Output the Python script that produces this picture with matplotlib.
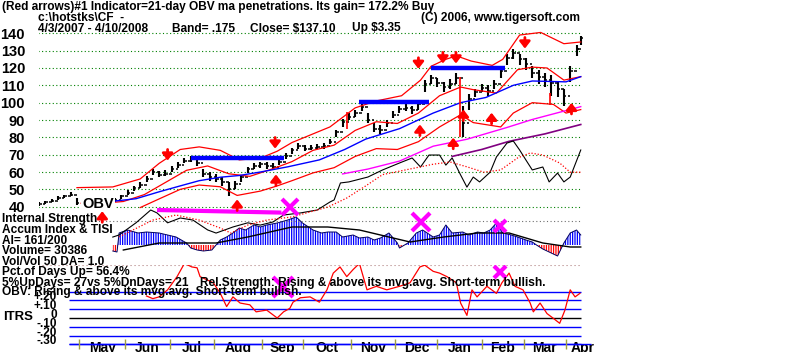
import matplotlib
matplotlib.use("Agg")
import matplotlib.pyplot as plt
from matplotlib.transforms import offset_copy
import numpy as np

plt.rcParams["font.family"] = ["Liberation Sans Narrow", "Liberation Sans", "DejaVu Sans"]
plt.rcParams["font.weight"] = "bold"
plt.rcParams["hatch.linewidth"] = 0.9

# ---- price bars (trading day index from 4/3/2007) ----
bar_day = [0, 3, 6, 9, 12, 15, 18, 21, 24, 27, 30, 33, 36, 39, 42, 45, 48, 51, 54, 57,
           60, 63, 66, 69, 72, 75, 78, 81, 84, 87, 90, 93, 96, 99, 102, 105, 108, 111, 114, 117,
           120, 123, 126, 129, 132, 135, 138, 141, 144, 147, 150, 153, 156, 159, 162, 165, 168, 171, 174, 177,
           180, 183, 186, 189, 192, 195, 198, 201, 204, 207, 210, 213, 216, 219, 222, 225, 228, 231, 234, 237,
           240, 243, 246, 249, 252, 255, 257]
bar_close = [41.5, 42.5, 43.5, 45, 46, 47, 42, 41, 41, 41.5, 42, 43, 44, 46, 48, 50.5, 52.5, 56, 60, 58.5,
             59, 62, 64, 66.5, 68, 65, 59, 57, 56, 54, 50, 53, 57, 61.5, 63.5, 64.5, 63.5, 63, 65.5, 69.5,
             72.5, 75, 73.5, 74, 74.5, 75, 77.5, 83, 89, 92, 94, 97.5, 90, 85, 84.5, 88.5, 93, 96.5, 97, 95.5,
             99, 111, 114, 111.5, 109, 111, 114.5, 88, 102, 106, 108.5, 107, 111, 118, 126, 128.5, 125, 122.5, 117, 115,
             113, 111.5, 108, 104, 118, 131, 137.1]
bar_high = [42.5, 43.5, 44.5, 46, 47, 48.5, 45, 42.5, 42, 42.5, 43, 44, 45, 47, 49.5, 52, 54, 57.5, 61.5, 60.5,
            61, 63.5, 65.5, 68, 69.5, 68, 62, 60, 59, 57, 54, 55, 58.5, 63, 65, 66, 65.5, 65, 67, 71,
            74, 76.5, 75.5, 75.5, 76, 76.5, 79, 84.5, 90.5, 94, 96, 99.5, 94, 88, 87, 90, 95, 98, 99, 98,
            101, 113, 116, 114, 112, 113.5, 117, 98, 105, 108, 111, 110, 113, 120, 128, 131, 128, 126, 121, 119,
            117, 116, 112, 108, 121, 133, 138.5]
bar_low = [40.5, 41.5, 42.5, 44, 45, 46, 41, 40, 40, 40.5, 41, 42, 43, 44.5, 46.5, 49, 51, 54, 58, 57,
           57.5, 60, 62.5, 65, 66, 63.5, 57, 55, 54, 52, 46, 50, 54.5, 59.5, 61.5, 62.5, 62, 61.5, 64, 67.5,
           70.5, 73, 72, 72.5, 73, 73.5, 76, 80, 86, 90, 92, 95, 88, 83, 82, 86, 91, 94, 95, 93.5,
           96, 106, 111, 109, 106, 108, 111, 80, 96, 103, 106, 104, 108, 114, 122, 125, 122, 119, 114, 111,
           109, 104, 103, 98, 112, 127, 133.5]

# ---- bands and moving averages (price units) ----
upper_day = [18, 35, 48, 57, 67, 76, 86, 95, 105, 113, 120, 128, 138, 150, 160, 172, 181, 186, 193, 198,
             205, 215, 220, 228, 238, 249, 257]
upper_val = [51, 51.4, 56, 65, 73, 74.5, 72.5, 67, 68, 72, 77, 81, 86, 97, 101, 104, 113, 121, 125, 127,
             124, 121.5, 125, 139, 140.5, 134, 135]
mid_day = [20, 30, 40, 50, 60, 70, 80, 90, 100, 110, 120, 130, 140, 150, 160, 170, 180, 190, 200, 206,
           217, 227, 234, 241, 249, 257]
mid_val = [42, 42, 43, 47, 54, 61, 63.5, 59, 57.5, 61.5, 66, 72.5, 75.5, 84, 89, 88, 94, 104, 109, 107.5,
           105.5, 119, 120.5, 120, 113, 115]
lower_day = [48, 57, 67, 76, 86, 94, 105, 113, 120, 130, 140, 150, 160, 170, 180, 190, 200, 206, 219, 225,
             234, 244, 250, 257]
lower_val = [39.5, 44.5, 50, 52.5, 51.5, 46.5, 49, 52, 55, 59.5, 62.5, 69, 73.5, 73, 77.5, 86, 93, 88.5, 86, 94,
             100, 99, 94, 96]
ma50_day = [34, 46, 57, 67, 76, 86, 95, 105, 118, 133, 145, 155, 171, 187, 200, 212, 225, 234, 250, 257]
ma50_val = [43, 44.6, 48.6, 52, 55, 57, 58, 60, 63, 67, 73, 79, 85, 94, 100, 103, 110, 112.5, 112, 115]
pink_day = [144, 156, 171, 187, 203, 222, 234, 257]
pink_val = [58.9, 61.7, 66.3, 74.9, 78.9, 85.7, 90.3, 97.7]
purple_day = [196, 210, 223, 240, 257]
purple_val = [69, 73, 77.7, 82, 87.4]

# ---- OBV (scaled onto price axis) and its moving average ----
obv_day = [35, 38, 46, 53, 56, 61, 67, 73, 80, 84, 92, 99, 105, 111, 116, 124, 132, 138, 140, 143,
           147, 156, 163, 171, 177, 181, 185, 190, 193, 196, 200, 203, 206, 209, 214, 217, 222, 225, 228, 231,
           234, 239, 242, 246, 249, 252, 257]
obv_val = [22.5, 23.7, 30.7, 38.1, 36.4, 30.7, 33.5, 32.3, 26.6, 24.8, 28.3, 30.7, 29.4, 31.2, 35.2, 36.4, 38.1, 42.7, 43.9, 53.7,
           54.3, 57.1, 61.2, 65.2, 68.1, 62.9, 69.8, 69.8, 64.0, 68.1, 58.3, 51.3, 57.1, 54.3, 59.9, 68.7, 76.7, 77.9, 72.7, 66.9,
           61.2, 62.9, 54.3, 59.4, 54.3, 57.1, 72.7]
obvma_day = [38, 54, 65, 76, 86, 91, 99, 108, 120, 137, 146, 155, 163, 171, 181, 187, 195, 203, 211, 219,
             227, 233, 239, 247, 252, 257]
obvma_val = [22.6, 32.3, 35.2, 32.3, 27.7, 24.8, 29.4, 32.3, 34.1, 39.8, 45, 52, 58.5, 60.5, 63, 64.5, 65.8, 63, 59.9, 61.2,
             68.1, 71.0, 69.8, 65.2, 59.9, 59.9]

# resistance lines (start day, end day, level)
res_start = [72, 152, 186]
res_end = [116, 185, 221]
res_level = [67.9, 100.1, 119.8]

# red arrows
down_day = [61, 112, 180, 191.6, 197.8, 230.5]
down_price = [69.8, 76.7, 122.7, 125.8, 125.8, 134.4]
up_day = [30, 94, 112.4, 180.7, 196.5, 201.3, 214.7, 252.6]
up_price = [34.2, 41, 55.4, 84.2, 76.6, 92.9, 91, 96.7]
sig_day = [146, 199.7, 242.4]
sig_top = [94.8, 115, 105.4]
sig_bot = [85, 80.4, 98.7]

# ---- Accumulation index ----
acc_day = [35, 37, 38, 42, 47, 51, 57, 61, 65, 70, 72, 75, 78, 82, 86, 89, 92, 95, 98, 102,
           105, 108, 113, 118, 122, 125, 130, 134, 137, 141, 144, 149, 152, 156, 159, 162, 166, 170, 171, 175,
           179, 182, 187, 190, 193, 196, 201, 204, 208, 211, 214, 217, 220, 224, 227, 231, 234, 236, 239, 243,
           246, 249, 252, 255, 257]
acc_val = [-0.06, -0.07, 0.12, 0.15, 0.12, 0.13, 0.12, 0.10, 0.08, 0.02, -0.03, -0.05, -0.06, -0.05, 0.05, 0.08, 0.12, 0.17, 0.15, 0.20,
           0.18, 0.20, 0.22, 0.25, 0.28, 0.22, 0.15, 0.12, 0.13, 0.13, 0.08, 0.10, 0.07, 0.08, 0.05, 0.07, 0.12, 0.02, -0.03, 0.02,
           0.12, 0.15, 0.08, 0.10, 0.20, 0.12, 0.13, 0.10, 0.13, 0.12, 0.15, 0.22, 0.12, 0.10, 0.08, 0.05, 0.03, 0.0, -0.04, -0.08,
           -0.11, 0.02, 0.12, 0.15, 0.10]
accma_day = [40, 57, 84, 99, 120, 137, 152, 176, 192, 208, 223, 239, 252, 257]
accma_val = [-0.05, 0.02, 0.02, 0.08, 0.18, 0.18, 0.15, 0.03, 0.08, 0.12, 0.12, 0.02, -0.02, -0.02]

# ---- ITRS ----
itrs_day = [51, 54, 57, 61, 65.5, 69, 72.5, 75, 76.4, 82.7, 86, 89, 92, 95.4, 100, 103, 108, 113, 116, 119,
            120.5, 124, 128.6, 133, 136.6, 139.6, 142.8, 146, 149, 152, 155.6, 160, 165, 171, 176, 180.7, 183, 187, 190, 193.5,
            198, 200, 203, 205.4, 207.8, 212.5, 217, 219.6, 223, 225.8, 229.6, 233, 234.5, 237.7, 241, 243.8, 247, 249.5, 252, 254.3,
            256.6]
itrs_val = [0.25, 0.22, 0.24, 0.32, 0.47, 0.62, 0.58, 0.57, 0.47, 0.40, 0.28, 0.13, 0.24, 0.17, 0.15, 0.07, 0.09, 0.0, 0.07, 0.11,
            0.18, 0.23, 0.24, 0.18, 0.32, 0.51, 0.58, 0.47, 0.55, 0.62, 0.32, 0.36, 0.32, 0.36, 0.40, 0.58, 0.60, 0.53, 0.51, 0.47,
            0.40, 0.17, 0.03, 0.32, 0.24, 0.36, 0.28, 0.40, 0.51, 0.36, 0.32, 0.17, 0.07, 0.17, 0.05, 0.0, -0.06, 0.09, 0.32, 0.24,
            0.28]
itrs_levels = [0.3, 0.2, 0.1, -0.1, -0.2, -0.3]
itrs_labels = ["+.20", "+.10", "0", "-.10", "-.20", "-.30"]
itrs_label_vals = [0.2, 0.1, 0.0, -0.1, -0.2, -0.3]

# signal marks
x_day = [119, 181.2, 218.7]
x_price = [39.8, 31.2, 28.9]
x_size = [11, 13, 8]
itrs_x_day = [115.7, 218.7]
itrs_x_val = [0.35, 0.52]
itrs_x_size = [14, 8]
mag_day = [56, 115]
mag_price = [38.1, 36.6]

month_names = ["May", "Jun", "Jul", "Aug", "Sep", "Oct", "Nov", "Dec", "Jan", "Feb", "Mar", "Apr"]
month_start = [19, 41, 62, 83, 106, 125, 148, 169, 189, 210, 230, 250]

price_ticks = [140, 130, 120, 110, 100, 90, 80, 70, 60, 50, 40]

# ---------------------------------------------------------------
W, H = 800, 352
PX_DAY = 2.108
X0 = 39


def rect(y_top, y_bot, x1=600):
    return [X0 / W, 1 - y_bot / H, (x1 - X0) / W, (y_bot - y_top) / H]


fig = plt.figure(figsize=(8, 3.52), dpi=100)
fig.patch.set_facecolor("white")
xmax = (600 - X0) / PX_DAY

ax_a = fig.add_axes(rect(200, 265))
ax_i = fig.add_axes(rect(265, 352))
ax_p = fig.add_axes(rect(28, 265))
for ax in (ax_a, ax_i, ax_p):
    ax.set_xlim(0, xmax)
    ax.patch.set_visible(False)
    for s in ax.spines.values():
        s.set_visible(False)
    ax.set_xticks([])
    ax.set_yticks([])
ax_p.set_ylim(6.38, 143.06)
ax_a.set_ylim(-0.20, 0.45)
ax_i.set_ylim(-0.386, 0.602)

# price axis labels
ax_p.set_yticks(price_ticks)
ax_p.tick_params(axis="y", length=0, pad=10, labelsize=10.5)
for lab in ax_p.get_yticklabels():
    lab.set_fontfamily("Liberation Sans")
    lab.set_fontweight("bold")

# grid
ax_p.hlines(price_ticks, -0.5, 257, colors="#008000", linestyles=(0, (1, 2.2)), lw=0.8)
ax_a.hlines([0.24], -0.5, 257, colors="#707070", linestyles=(0, (1, 2.2)), lw=0.8)
ax_i.hlines([0.60], -0.5, 257, colors="#b08080", linestyles=(0, (1, 2.6)), lw=0.8)

# accumulation histogram
acc_d = np.array(acc_day, dtype=float)
acc_v = np.array(acc_val)
ax_a.fill_between(acc_d, 0, acc_v, where=acc_v >= 0, interpolate=True, facecolor="white",
                  edgecolor="#0000ff", hatch="|" * 7, lw=0)
ax_a.fill_between(acc_d, 0, acc_v, where=acc_v <= 0, interpolate=True, facecolor="white",
                  edgecolor="#ff0000", hatch="|" * 7, lw=0)
ax_a.plot(acc_d, acc_v, color="#000060", lw=0.7)
ax_a.plot(accma_day, accma_val, color="black", lw=1.0)

# ITRS panel
ax_i.hlines(itrs_levels, 14, 257, colors="#0000ff", lw=1.0)
ax_i.hlines([-0.3], 14, 262, colors="#0000ff", lw=1.0)
ax_i.hlines([0.0], 14, 257, colors="black", lw=1.0)
ax_i.plot(itrs_day, itrs_val, color="red", lw=0.9)
for d, v in zip(itrs_label_vals, itrs_labels):
    ax_i.text(8.6, d + 0.035, v, ha="right", va="center", fontsize=8.5, fontfamily="Liberation Sans")
ax_i.vlines(month_start, -0.35, -0.24, colors="#a0a040", lw=1.0)
centers = [(a + b) / 2 for a, b in zip(month_start[:-1], month_start[1:])] + [month_start[-1] + 8]
for c, m in zip(centers, month_names):
    ax_i.text(c, -0.345, m, ha="center", va="center", fontsize=10, fontfamily="Liberation Sans", zorder=1)
for d, v, s in zip(itrs_x_day, itrs_x_val, itrs_x_size):
    ax_i.plot(d, v, marker="x", ms=s, mew=3, color="#ff00ff", zorder=5)

# price bars: high-low line, open tick (previous close) on the left, close tick on the right
bd = np.array(bar_day, dtype=float)
ax_p.vlines(bd, bar_low, bar_high, colors="black", lw=1.5)
ax_p.hlines(bar_close, bd, bd + 1.2, colors="black", lw=1.1)
ax_p.hlines(bar_close[:-1], bd[1:] - 1.2, bd[1:], colors="black", lw=1.1)

# bands / averages
ax_p.plot(upper_day, upper_val, color="red", lw=0.9)
ax_p.plot(mid_day, mid_val, color="red", lw=0.9)
ax_p.plot(lower_day, lower_val, color="red", lw=0.9)
ax_p.plot(ma50_day, ma50_val, color="#0000ff", lw=1.0)
ax_p.plot(pink_day, pink_val, color="#ff00ff", lw=1.0)
ax_p.plot(purple_day, purple_val, color="#800080", lw=1.2)
ax_p.plot(obv_day, obv_val, color="black", lw=0.8)
ax_p.plot(obvma_day, obvma_val, color="red", lw=0.9, ls=(0, (1, 1.5)))

# resistance lines
ax_p.hlines(res_level, res_start, res_end, colors="#0000ff", lw=3.2)
ax_p.plot(mag_day, mag_price, color="#ff00ff", lw=3.0, solid_capstyle="butt")
for d, p, s in zip(x_day, x_price, x_size):
    ax_p.plot(d, p, marker="x", ms=s, mew=3, color="#ff00ff", zorder=5)

# signal lines and arrows
ax_p.vlines(sig_day, sig_bot, sig_top, colors="red", lw=1.2)


def arrow(d, p, up):
    sgn = 1 if up else -1
    tip = offset_copy(ax_p.transData, fig=fig, x=0, y=4.0 * sgn, units="points")
    ax_p.annotate("", xy=(d, p), xycoords=tip, xytext=(0, -8.0 * sgn), textcoords="offset points",
                  arrowprops=dict(arrowstyle="-|>,head_width=0.35,head_length=0.45", color="red",
                                  lw=2.0, shrinkA=0, shrinkB=0, mutation_scale=9))


for d, p in zip(down_day, down_price):
    arrow(d, p, False)
for d, p in zip(up_day, up_price):
    arrow(d, p, True)

ax_p.text(28, 41.5, "OBV", ha="center", va="center", fontsize=10.5, fontfamily="Liberation Sans",
          bbox=dict(facecolor="white", edgecolor="none", pad=0.5))


# ---- texts ----
def ftext(x, y, s, size=8.6, **kw):
    fig.text(x / W, 1 - y / H, s, ha=kw.pop("ha", "left"), va="center", fontsize=size, **kw)


ftext(2, 7, "(Red arrows)#1 Indicator=21-day OBV ma penetrations. Its gain= 172.2% Buy")
ftext(38, 18, "c:\\hotstks\\CF  -")
ftext(421, 18, "(C) 2006, www.tigersoft.com")
ftext(38, 28.5, "4/3/2007 - 4/10/2008")
ftext(172, 28.5, "Band= .175")
ftext(250, 28.5, "Close= $137.10")
ftext(352, 28.5, "Up $3.35")

left_labels = ["Internal Strength", "Accum Index & TISI", "AI= 161/200", "Volume= 30386",
               "Vol/Vol 50 DA= 1.0", "Pct.of Days Up= 56.4%", "5%UpDays= 27vs 5%DnDays= 21",
               "OBV: Rising & above its mvg.avg. Short-term bullish."]
left_y = [219, 230, 240.5, 251, 262, 272, 283, 292.5]
for s, y in zip(left_labels, left_y):
    ftext(2, y, s)
ftext(200, 283, "Rel.Strength: Rising & above its mvg.avg. Short-term bullish.")
ftext(3, 317, "ITRS", size=9.5)

fig.savefig("out.png", dpi=100, facecolor="white")
